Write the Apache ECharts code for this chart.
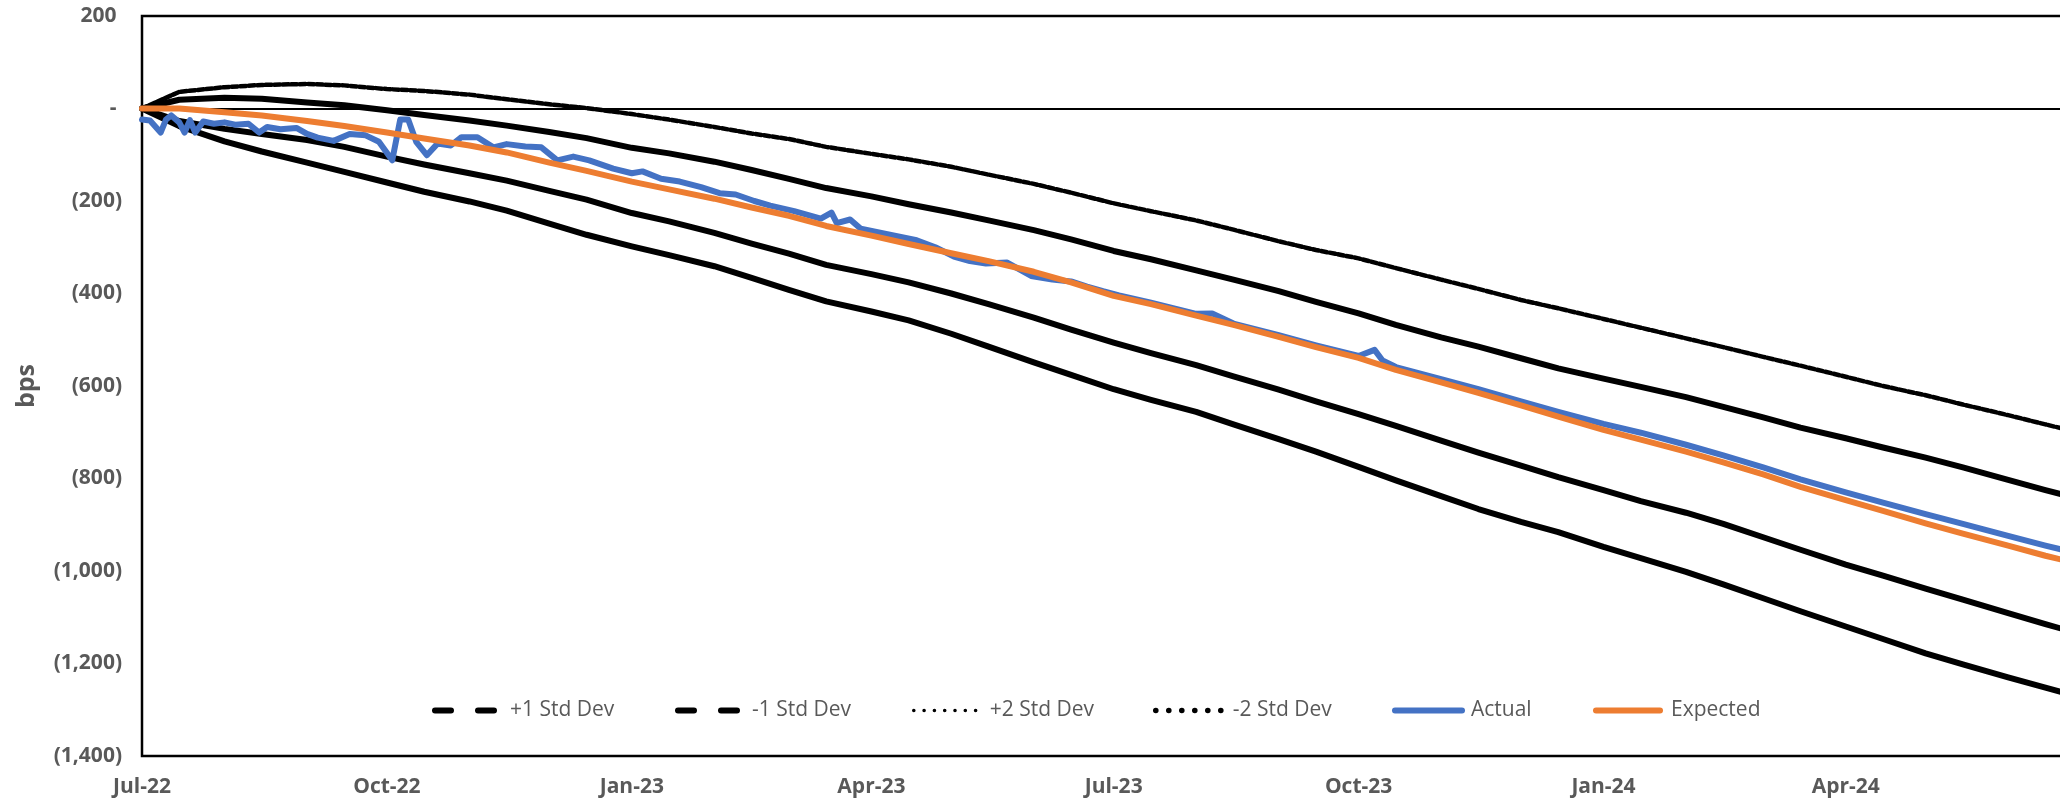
<!DOCTYPE html>
<html>
<head>
<meta charset="utf-8">
<script src="https://cdn.jsdelivr.net/npm/echarts@6/dist/echarts.min.js"></script>
<style>
html,body{margin:0;padding:0;background:#ffffff;}
#chart{width:2060px;height:804px;}
</style>
</head>
<body>
<div id="chart"></div>
<script>
// ---- data ----
const dates = ['2022-07-01','2022-07-15','2022-08-01','2022-08-15','2022-09-01','2022-09-15','2022-10-01','2022-10-15','2022-11-01','2022-11-15','2022-12-01','2022-12-15','2023-01-01','2023-01-15','2023-02-01','2023-02-15','2023-03-01','2023-03-15','2023-04-01','2023-04-15','2023-05-01','2023-05-15','2023-06-01','2023-06-15','2023-07-01','2023-07-15','2023-08-01','2023-08-15','2023-09-01','2023-09-15','2023-10-01','2023-10-15','2023-11-01','2023-11-15','2023-12-01','2023-12-15','2024-01-01','2024-01-15','2024-02-01','2024-02-15','2024-03-01','2024-03-15','2024-04-01','2024-04-15','2024-05-01','2024-05-15','2024-06-01','2024-06-15','2024-06-25'];

const plus1 = [0,19,23,21,13,7,-4,-14,-26,-37,-51,-64,-85,-97,-115,-133,-152,-172,-190,-207,-225,-242,-263,-283,-308,-326,-350,-370,-395,-418,-443,-468,-495,-515,-540,-562,-584,-602,-624,-645,-668,-690,-713,-733,-755,-776,-803,-825,-840];
const minus1 = [0,-27,-44,-55,-68,-83,-104,-121,-140,-156,-178,-197,-226,-244,-269,-292,-314,-338,-358,-376,-400,-423,-452,-478,-506,-529,-555,-579,-608,-633,-661,-686,-718,-744,-772,-797,-825,-849,-874,-898,-927,-954,-986,-1010,-1038,-1062,-1091,-1115,-1131];
const plus2 = [0,36,46,51,53,50,42,38,30,20,9,1,-12,-24,-40,-54,-66,-83,-98,-110,-126,-143,-163,-182,-205,-222,-242,-262,-287,-306,-324,-345,-370,-390,-414,-432,-455,-474,-497,-516,-537,-556,-580,-600,-620,-640,-663,-683,-697];
const minus2 = [0,-38,-71,-93,-117,-137,-160,-180,-201,-221,-249,-273,-298,-317,-341,-366,-392,-417,-439,-458,-487,-515,-549,-576,-607,-630,-656,-683,-715,-742,-775,-804,-838,-866,-894,-916,-948,-972,-1002,-1029,-1059,-1087,-1120,-1147,-1178,-1202,-1230,-1252,-1268];
const expected = [0,0,-8,-15,-27,-38,-52,-65,-80,-95,-117,-135,-158,-175,-195,-214,-232,-254,-275,-293,-313,-330,-353,-376,-405,-423,-448,-468,-494,-516,-539,-565,-592,-615,-642,-666,-695,-716,-742,-765,-791,-818,-847,-870,-897,-919,-945,-967,-981];

const actualDates = ['2022-07-01','2022-07-04','2022-07-08','2022-07-10','2022-07-12','2022-07-15','2022-07-17','2022-07-19','2022-07-21','2022-07-24','2022-07-28','2022-08-01','2022-08-05','2022-08-10','2022-08-14','2022-08-17','2022-08-22','2022-08-28','2022-09-01','2022-09-05','2022-09-11','2022-09-17','2022-09-23','2022-09-28','2022-10-03','2022-10-06','2022-10-09','2022-10-12','2022-10-16','2022-10-20','2022-10-25','2022-10-29','2022-11-04','2022-11-10','2022-11-15','2022-11-22','2022-11-28','2022-12-04','2022-12-10','2022-12-16','2022-12-25','2023-01-01','2023-01-05','2023-01-12','2023-01-19','2023-01-27','2023-02-03','2023-02-09','2023-02-16','2023-02-22','2023-03-03','2023-03-13','2023-03-17','2023-03-19','2023-03-24','2023-03-28','2023-04-07','2023-04-18','2023-04-25','2023-05-02','2023-05-08','2023-05-14','2023-05-22','2023-05-31','2023-06-08','2023-06-15','2023-06-21','2023-06-27','2023-07-03','2023-07-15','2023-08-01','2023-08-07','2023-08-15','2023-09-01','2023-09-15','2023-10-01','2023-10-07','2023-10-10','2023-10-15','2023-11-01','2023-11-15','2023-12-01','2023-12-15','2024-01-01','2024-01-15','2024-02-01','2024-02-15','2024-03-01','2024-03-15','2024-04-01','2024-04-15','2024-05-01','2024-05-15','2024-06-01','2024-06-15','2024-06-25'];
const actual = [-24,-26,-52,-24,-15,-30,-52,-25,-52,-28,-33,-30,-35,-33,-52,-40,-45,-42,-55,-63,-70,-55,-58,-72,-112,-24,-24,-72,-101,-76,-80,-62,-62,-84,-77,-82,-84,-112,-104,-112,-130,-140,-136,-152,-158,-170,-183,-186,-200,-210,-222,-238,-225,-248,-240,-260,-272,-285,-300,-320,-330,-335,-333,-362,-370,-374,-385,-395,-404,-420,-444,-443,-465,-490,-512,-535,-522,-545,-559,-585,-607,-633,-656,-682,-701,-727,-750,-776,-802,-830,-852,-877,-898,-924,-945,-959];

const tickDates = ['2022-07-01','2022-10-01','2023-01-01','2023-04-01','2023-07-01','2023-10-01','2024-01-01','2024-04-01'];
const axisStart = '2022-07-01';
const axisEnd = '2024-07-01';
const yMin = -1400, yMax = 200, yStep = 200;

const seriesNames = ['+1 Std Dev','-1 Std Dev','+2 Std Dev','-2 Std Dev','Actual','Expected'];
const MONTHS = ['Jan','Feb','Mar','Apr','May','Jun','Jul','Aug','Sep','Oct','Nov','Dec'];

// ---- helpers ----
function ts(s){ const p = s.split('-').map(Number); return new Date(p[0], p[1]-1, p[2]).getTime(); }
function pairs(ds, vs){ return ds.map((d,i)=>[ts(d), vs[i]]); }
function fmtX(v){ const d = new Date(v); return MONTHS[d.getMonth()] + '-' + String(d.getFullYear()).slice(2); }
function fmtY(v){
  if (v === 0) return '- ';
  const s = Math.abs(v).toLocaleString('en-US');
  return v < 0 ? '(' + s + ')' : s + ' ';
}

const FONT = 'Open Sans';
const GREY = '#595959';

function lineSeries(name, data, color, width, type, z){
  return {
    name, type:'line', data, symbol:'none', showSymbol:false, z,
    lineStyle:{color, width, type, cap:'round', join:'round'},
    itemStyle:{color},
    emphasis:{disabled:true}, silent:true
  };
}

const series = [
  lineSeries(seriesNames[0], pairs(dates, plus1), '#000000', 6, 'solid', 2),
  lineSeries(seriesNames[1], pairs(dates, minus1), '#000000', 6, 'solid', 3),
  lineSeries(seriesNames[2], pairs(dates, plus2), '#000000', 4.5, [6,2.5], 4),
  lineSeries(seriesNames[3], pairs(dates, minus2), '#000000', 6, 'solid', 5),
  lineSeries(seriesNames[4], pairs(actualDates, actual), '#4472C4', 6, 'solid', 6),
  lineSeries(seriesNames[5], pairs(dates, expected), '#ED7D31', 6, 'solid', 7)
];
series[0].markLine = {
  silent:true, symbol:'none', animation:false,
  label:{show:false},
  lineStyle:{color:'#000000', width:2, type:'solid'},
  data:[{yAxis:0}]
};

const legendDefs = [
  {name:seriesNames[0], left:432, w:60, pad:10, ls:{type:[16,27], width:6, cap:'round', color:'#000'}},
  {name:seriesNames[1], left:675, w:60, pad:9,  ls:{type:[16,27], width:6, cap:'round', color:'#000'}},
  {name:seriesNames[2], left:912, w:62, pad:9,  ls:{type:[0.1,10.2], width:3.5, cap:'round', color:'#000'}},
  {name:seriesNames[3], left:1153, w:66, pad:6, ls:{type:[0.1,12.9], width:5.5, cap:'round', color:'#000'}},
  {name:seriesNames[4], left:1392, w:67, pad:4, ls:{type:'solid', width:6, cap:'round', color:'#4472C4'}},
  {name:seriesNames[5], left:1593, w:64, pad:6, ls:{type:'solid', width:6, cap:'round', color:'#ED7D31'}}
];

const legends = legendDefs.map(d => ({
  data:[d.name], left:d.left, top:700, padding:0, orient:'horizontal',
  selectedMode:false, itemWidth:d.w, itemHeight:14, itemGap:0,
  lineStyle:d.ls, itemStyle:{opacity:0},
  textStyle:{color:GREY, fontSize:21, fontFamily:FONT, padding:[0,0,0,d.pad]}
}));

const chart = echarts.init(document.getElementById('chart'), null, {renderer:'canvas'});
chart.setOption({
  animation:false,
  backgroundColor:'#ffffff',
  textStyle:{fontFamily:FONT},
  grid:{left:142, right:-28, top:16, bottom:48, show:true, borderColor:'#000000', borderWidth:2.5,
        backgroundColor:'transparent', containLabel:false, outerBoundsMode:'none'},
  legend:legends,
  xAxis:{
    type:'value', min:ts(axisStart), max:ts(axisEnd),
    axisLine:{show:false}, axisTick:{show:false}, splitLine:{show:false},
    axisLabel:{
      customValues:tickDates.map(ts),
      formatter:fmtX, color:GREY, fontSize:21, fontWeight:'bold', fontFamily:FONT, margin:21
    }
  },
  yAxis:{
    type:'value', min:yMin, max:yMax, interval:yStep,
    name:'bps', nameLocation:'middle', nameRotate:90, nameGap:103,
    nameTextStyle:{color:GREY, fontSize:25, fontWeight:'bold', fontFamily:FONT},
    axisLine:{show:false}, axisTick:{show:false}, splitLine:{show:false},
    axisLabel:{formatter:fmtY, color:GREY, fontSize:21, fontWeight:'bold', fontFamily:FONT, margin:20}
  },
  series
});
</script>
</body>
</html>
